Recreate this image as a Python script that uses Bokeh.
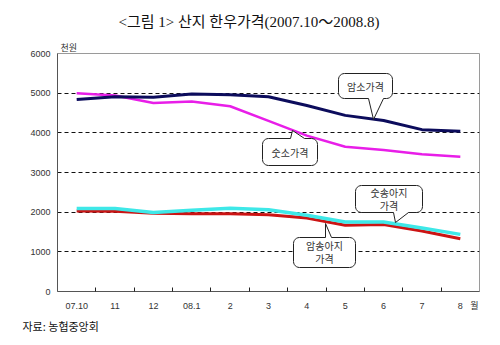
from bokeh.plotting import figure
from bokeh.models import FixedTicker, Range1d, Label, Title
from bokeh.embed import file_html
from bokeh.resources import INLINE
import math

months = ["07.10", "11", "12", "08.1", "2", "3", "4", "5", "6", "7", "8"]
cow = [4840, 4910, 4900, 4980, 4960, 4910, 4690, 4440, 4310, 4080, 4040]        # 암소가격
bull = [5000, 4940, 4750, 4790, 4670, 4300, 3930, 3650, 3570, 3460, 3400]       # 숫소가격
male_calf = [2090, 2090, 1990, 2050, 2100, 2060, 1920, 1750, 1750, 1600, 1440]  # 숫송아지 가격
female_calf = [2030, 2020, 1975, 1960, 1960, 1935, 1850, 1670, 1690, 1525, 1330]  # 암송아지 가격
yticks = [0, 1000, 2000, 3000, 4000, 5000, 6000]
unit_x = "월"
unit_y = "천원"
title_text = "<그림 1> 산지 한우가격(2007.10～2008.8)"
source_text = "자료: 농협중앙회"

W, H = 500, 345
L, R, T, B = 57, 21, 53, 54
FW, FH = W - L - R, H - T - B
n = len(months)
xs = list(range(n))

p = figure(width=W, height=H, output_backend="svg", toolbar_location=None,
           x_range=Range1d(-0.5, n - 0.5), y_range=Range1d(0, 6000),
           min_border_left=L, min_border_right=R, min_border_top=T, min_border_bottom=B)
p.background_fill_color = "white"
p.border_fill_color = "white"
p.outline_line_color = "#9a9a9a"
p.outline_line_width = 1

unit_pos = n - 0.5 - 0.13
p.xaxis.ticker = FixedTicker(ticks=xs + [unit_pos], minor_ticks=[i - 0.5 for i in range(1, n)])
overrides = {i: m for i, m in enumerate(months)}
overrides[unit_pos] = unit_x
p.xaxis.major_label_overrides = overrides
p.xaxis.major_tick_in = 0
p.xaxis.major_tick_out = 0
p.xaxis.minor_tick_in = 4
p.xaxis.minor_tick_out = 0
p.xaxis.minor_tick_line_color = "#222222"
p.xaxis.axis_line_color = "#555555"
p.xaxis.major_label_standoff = 9
p.xaxis.major_label_text_font = "Liberation Sans, Noto Sans CJK KR"
p.xaxis.major_label_text_font_size = "9px"
p.xaxis.major_label_text_color = "#333333"

p.yaxis.ticker = FixedTicker(ticks=yticks)
p.yaxis.major_tick_in = 0
p.yaxis.major_tick_out = 0
p.yaxis.minor_tick_line_color = None
p.yaxis.axis_line_color = "#555555"
p.yaxis.major_label_standoff = 7
p.yaxis.major_label_text_font = "Liberation Sans"
p.yaxis.major_label_text_font_size = "9px"
p.yaxis.major_label_text_color = "#333333"

p.xgrid.grid_line_color = None
p.ygrid.ticker = FixedTicker(ticks=[1000, 2000, 3000, 4000, 5000])
p.ygrid.grid_line_color = "#111111"
p.ygrid.grid_line_dash = "4 3"
p.ygrid.grid_line_width = 1

p.line(xs, bull, line_color="#e81ee8", line_width=2.5)
p.line(xs, cow, line_color="#0c0c5c", line_width=3)
p.line(xs, female_calf, line_color="#cc1414", line_width=3)
p.line(xs, male_calf, line_color="#3ee8e8", line_width=3.5)

def dx(px):
    return (px - L) * n / FW - 0.5

def dy(py):
    return (H - B - py) * 6000 / FH

def callout(x0, y0, x1, y1, b0, b1, tip, side, r=6):
    pts = []
    def arc(cx, cy, a0, a1):
        for k in range(7):
            a = math.radians(a0 + (a1 - a0) * k / 6)
            pts.append((cx + r * math.cos(a), cy + r * math.sin(a)))
    arc(x0 + r, y0 + r, 180, 270)
    if side == "top":
        pts += [(b0, y0), tip, (b1, y0)]
    arc(x1 - r, y0 + r, 270, 360)
    arc(x1 - r, y1 - r, 0, 90)
    if side == "bottom":
        pts += [(b1, y1), tip, (b0, y1)]
    arc(x0 + r, y1 - r, 90, 180)
    p.patch([dx(a) for a, b in pts], [dy(b) for a, b in pts],
            fill_color="white", line_color="#222222", line_width=1)

def txt(px, py, s, size="10px", font="Noto Sans CJK KR", color="#333333", align="center"):
    p.add_layout(Label(x=dx(px), y=dy(py), text=s, text_align=align, text_baseline="middle",
                       text_font=font, text_font_size=size, text_color=color))

callout(338, 73, 392, 98, 368, 383, (373, 119), "bottom")
txt(365, 85.5, "암소가격")
callout(262, 138, 317, 165, 290, 304, (292, 130), "top")
txt(289.5, 151.5, "숫소가격")
callout(355, 185, 422, 212, 393, 408, (395, 222), "bottom")
txt(388.5, 192, "숫송아지")
txt(388.5, 205, "가격")
callout(293, 237, 355, 267, 325, 331, (325, 223), "top")
txt(324, 245, "암송아지")
txt(324, 258, "가격")

p.add_layout(Title(text=unit_y, align="left", offset=3, standoff=0, text_font="Noto Sans CJK KR",
                   text_font_size="9px", text_font_style="normal", text_color="#333333"), "above")
p.add_layout(Title(text=title_text, align="left", offset=61, standoff=18,
                   text_font="Liberation Serif, Noto Sans CJK KR",
                   text_font_size="15px", text_font_style="normal", text_color="#111111"), "above")
p.add_layout(Title(text=source_text, align="left", offset=-35, standoff=4, text_font="Noto Sans CJK KR",
                   text_font_size="11px", text_font_style="normal", text_color="#111111"), "below")

open("out.html", "w").write(file_html(p, INLINE))
